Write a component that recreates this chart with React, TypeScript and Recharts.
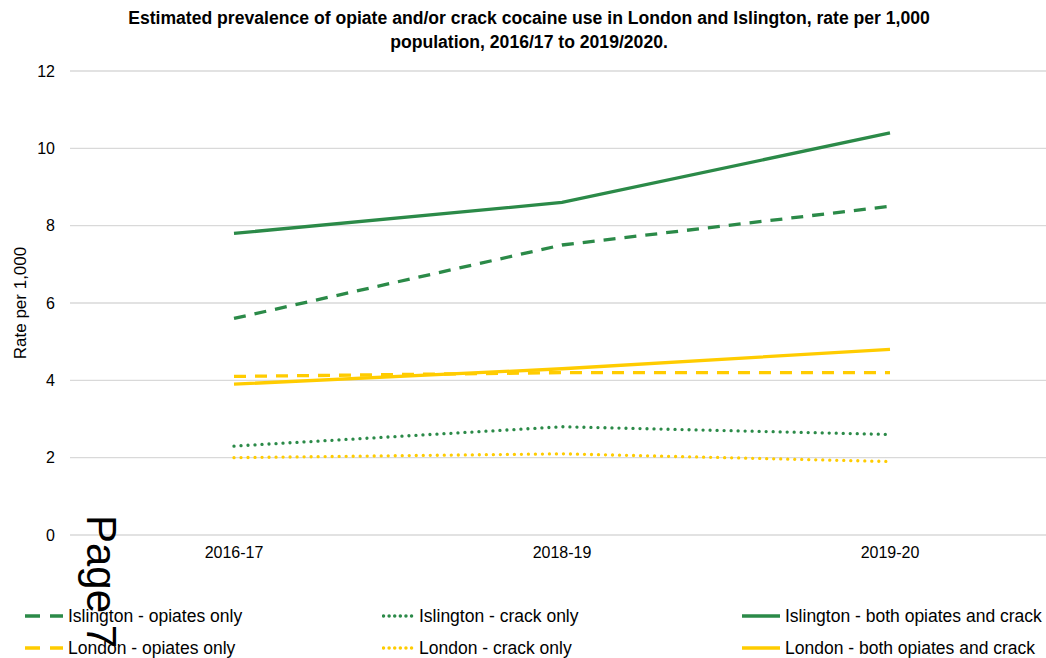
import React from "react";
import { LineChart, Line, XAxis, YAxis, CartesianGrid, Legend } from "recharts";

const years = ["2016-17", "2018-19", "2019-20"];
const islingtonOpiates = [5.6, 7.5, 8.5];
const islingtonCrack = [2.3, 2.8, 2.6];
const islingtonBoth = [7.8, 8.6, 10.4];
const londonOpiates = [4.1, 4.2, 4.2];
const londonCrack = [2.0, 2.1, 1.9];
const londonBoth = [3.9, 4.3, 4.8];
const yTicks = [0, 2, 4, 6, 8, 10, 12];

const GREEN = "#2B8A48";
const YELLOW = "#FFCC00";
const FONT = "'Liberation Sans', Arial, sans-serif";

const DASH = "12 9";
const DOT = "0.01 7";

// legend order is row by row, as in the original
const series = [
  { key: "io", name: "Islington - opiates only", color: GREEN, dash: DASH },
  { key: "ic", name: "Islington - crack only", color: GREEN, dash: DOT },
  { key: "ib", name: "Islington - both opiates and crack", color: GREEN, dash: undefined },
  { key: "lo", name: "London - opiates only", color: YELLOW, dash: DASH },
  { key: "lc", name: "London - crack only", color: YELLOW, dash: DOT },
  { key: "lb", name: "London - both opiates and crack", color: YELLOW, dash: undefined },
];

const data = years.map((year, i) => ({
  year,
  io: islingtonOpiates[i],
  ic: islingtonCrack[i],
  ib: islingtonBoth[i],
  lo: londonOpiates[i],
  lc: londonCrack[i],
  lb: londonBoth[i],
}));

const colX = [25, 382, 742];

function LegendBox() {
  return (
    <div style={{ position: "relative", width: 1046, height: 66, fontFamily: FONT, fontSize: 17.5, color: "#000" }}>
      {series.map((s, i) => {
        const col = i % 3;
        const row = Math.floor(i / 3);
        const iconW = s.dash === DOT ? 32 : 38;
        return (
          <div
            key={s.key}
            style={{
              position: "absolute",
              left: colX[col],
              top: row * 32,
              height: 32,
              display: "flex",
              alignItems: "center",
              whiteSpace: "nowrap",
            }}
          >
            <svg width={iconW} height={10} style={{ marginRight: 5 }}>
              <line
                x1={s.dash === DOT ? 1.5 : 0}
                y1={5}
                x2={iconW}
                y2={5}
                stroke={s.color}
                strokeWidth={3.5}
                strokeDasharray={s.dash === DASH ? "15 10" : s.dash === DOT ? "0.01 5.6" : undefined}
                strokeLinecap={s.dash === DOT ? "round" : "butt"}
              />
            </svg>
            <span>{s.name}</span>
          </div>
        );
      })}
    </div>
  );
}

function YLabel(props: any) {
  const vb = props.viewBox;
  const cy = vb.y + vb.height / 2;
  return (
    <text
      x={20}
      y={cy}
      transform={`rotate(-90, 20, ${cy})`}
      textAnchor="middle"
      dominantBaseline="central"
      fontFamily={FONT}
      fontSize={17}
      fill="#000"
    >
      Rate per 1,000
    </text>
  );
}

export default function App() {
  return (
    <div style={{ position: "absolute", left: 0, top: 0, width: 1046, height: 658, overflow: "hidden", background: "#fff" }}>
      <div
        style={{
          position: "absolute",
          left: 0,
          top: 6,
          width: 1058,
          textAlign: "center",
          fontFamily: FONT,
          fontWeight: "bold",
          fontSize: 17.6,
          lineHeight: "24px",
          color: "#000",
          zIndex: 2,
        }}
      >
        Estimated prevalence of opiate and/or crack cocaine use in London and Islington, rate per 1,000
        <br />
        population, 2016/17 to 2019/2020.
      </div>
      <LineChart
        width={1060}
        height={666}
        data={data}
        margin={{ top: 71, right: 6, bottom: 0, left: 0 }}
      >
        <CartesianGrid vertical={false} stroke="#D9D9D9" strokeWidth={1.3} />
        <XAxis
          dataKey="year"
          axisLine={false}
          tickLine={false}
          tickSize={0}
          tickMargin={12}
          height={65}
          padding={{ left: 164, right: 164 }}
          tick={{ fontFamily: FONT, fontSize: 16, fill: "#000" }}
        />
        <YAxis
          domain={[0, 12]}
          ticks={yTicks}
          width={70}
          axisLine={false}
          tickLine={false}
          tickSize={0}
          tickMargin={15}
          tick={{ fontFamily: FONT, fontSize: 16, fill: "#000" }}
          label={<YLabel />}
        />
        <Legend verticalAlign="bottom" wrapperStyle={{ left: 0, width: 1046 }} content={() => <LegendBox />} />
        {series.map((s) => (
          <Line
            key={s.key}
            dataKey={s.key}
            name={s.name}
            stroke={s.color}
            strokeWidth={3.3}
            strokeDasharray={s.dash}
            strokeLinecap={s.dash === DOT ? "round" : "butt"}
            dot={false}
            activeDot={false}
            type="linear"
            isAnimationActive={false}
          />
        ))}
      </LineChart>
      <svg width={1046} height={658} style={{ position: "absolute", left: 0, top: 0, pointerEvents: "none" }}>
        <text transform="translate(87,515) rotate(90)" fontFamily={FONT} fontSize={42} fill="#000">
          Page 7
        </text>
      </svg>
    </div>
  );
}
